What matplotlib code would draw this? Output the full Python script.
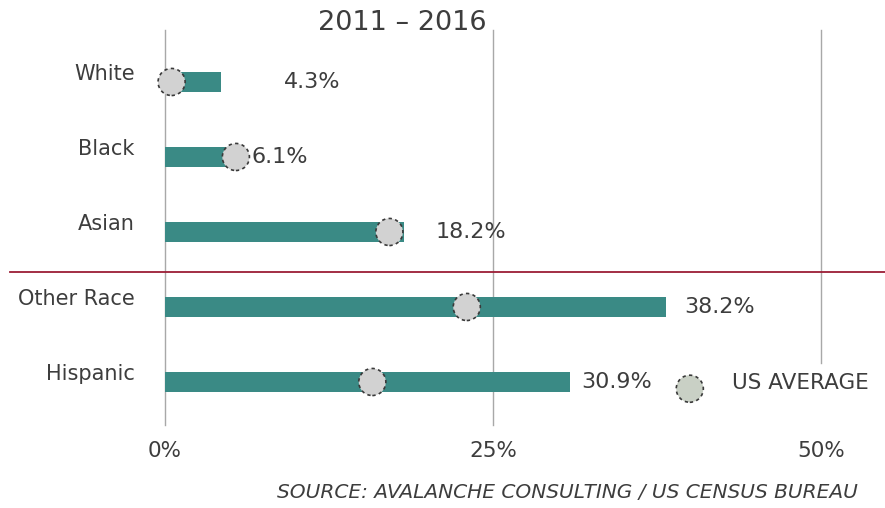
import matplotlib.pyplot as plt

categories = ['White', 'Black', 'Asian', 'Other Race', 'Hispanic']
growth = [4.3, 6.1, 18.2, 38.2, 30.9]
us_average = [0.5, 5.4, 17.1, 23.0, 15.8]
tick_values = [0, 25, 50]
tick_labels = ['0%', '25%', '50%']

# label placement tweaks (percentage points past the end of the bar)
label_pad = [4.8, 0.5, 2.4, 1.4, 0.8]

plt.rcParams['font.family'] = ['DejaVu Sans']
text_col = '#3d3d3d'
bar_col = '#3a8a85'

fig = plt.figure(figsize=(8.85, 5.08), dpi=100)
ax = fig.add_axes([0, 0, 1, 1])
ax.set_xlim(-12.58, 54.88)
ax.set_ylim(5.68, -1.093)
ax.axis('off')

ypos = list(range(len(categories)))

# gridlines
for v in tick_values:
    bottom = 3.75 if v == 50 else 4.57
    ax.plot([v, v], [-0.69, bottom], color='#a8a8a8', lw=1, zorder=0)
    ax.text(v, 4.92, tick_labels[tick_values.index(v)], ha='center', va='center',
            fontsize=15.5, color=text_col)

ax.barh(ypos, growth, height=0.27, color=bar_col, zorder=2)
ax.scatter(us_average, ypos, s=380, color='#d2d2d2', edgecolor='#3a3a3a',
           linewidth=1.2, linestyle=(0, (2, 2)), zorder=3)

for y, (c, g, a, p) in enumerate(zip(categories, growth, us_average, label_pad)):
    ax.text(-2.3, y - 0.1, c, ha='right', va='center', fontsize=15, color=text_col)
    ax.text(max(g, a) + p, y, f'{g}%', ha='left', va='center', fontsize=16, color=text_col)

# separator between race and ethnicity
ax.plot([-11.8, 54.88], [2.53, 2.53], color='#9b1d35', lw=1.3, zorder=1)

# legend
ax.scatter([40.0], [4.09], s=380, color='#c9d0c5', edgecolor='#3a3a3a',
           linewidth=1.2, linestyle=(0, (2, 2)), zorder=3)
ax.text(43.2, 4.02, 'US AVERAGE', ha='left', va='center', fontsize=15.5, color=text_col)

ax.text(18.1, -0.78, '2011 \u2013 2016', ha='center', va='center', fontsize=19.5, color=text_col)
ax.text(52.8, 5.48, 'SOURCE: AVALANCHE CONSULTING / US CENSUS BUREAU', ha='right',
        va='center', fontsize=14.5, style='italic', color=text_col)

fig.savefig('out.png', dpi=100)
